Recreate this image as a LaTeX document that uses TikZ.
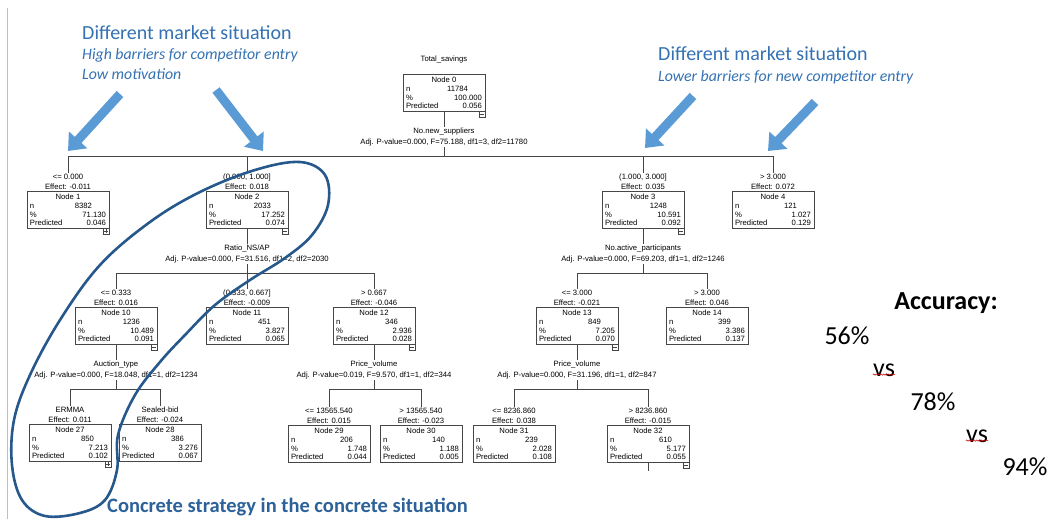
\documentclass[tikz,border=0pt]{standalone}
\usepackage{fontspec}
\setmainfont{Liberation Sans}
\newfontfamily\calibri{Carlito}
\usetikzlibrary{positioning, arrows.meta, decorations.pathmorphing}

\definecolor{noteblue}{RGB}{52,114,180}
\definecolor{arrowblue}{RGB}{91,155,213}
\definecolor{loopblue}{RGB}{38,88,140}
\definecolor{treegray}{RGB}{70,70,70}

\newcommand{\cellrow}[2]{\makebox[76pt]{#1\hfill#2}}
\newcommand{\boxtext}[4]{Node #1\\\cellrow{n}{#2\hspace*{14pt}}\\\cellrow{\%}{#3}\\\cellrow{Predicted}{#4}}

\tikzset{
  treebox/.style={draw=treegray, line width=0.6pt, minimum width=82pt, inner xsep=2pt, inner ysep=2.5pt, align=center, font=\fontsize{7.7}{8.8}\selectfont},
  edgelab/.style={inner sep=1pt, align=center, font=\fontsize{7.7}{10}\selectfont},
  splitlab/.style={inner sep=1pt, align=center, font=\fontsize{7.7}{11}\selectfont},
  edge/.style={draw=treegray, line width=0.6pt},
  toggle/.style={draw=treegray, line width=0.4pt, minimum size=6pt, inner sep=0pt, anchor=north east},
  note/.style={text=noteblue, anchor=west, inner sep=0pt, font=\calibri\fontsize{20}{22}\selectfont},
  notesub/.style={note, font=\calibri\itshape\fontsize{15.8}{18}\selectfont},
  bigarrow/.style={draw=arrowblue, line width=9pt, -{Triangle[length=15pt, width=24pt]}},
  acc/.style={inner sep=0pt, font=\calibri\fontsize{26}{28}\selectfont},
}

\begin{document}
\begin{tikzpicture}[x=1pt, y=-1pt]
    \fill[white] (0,0) rectangle (1053,519);
    \useasboundingbox (0,0) rectangle (1053,519);
    \draw[black!25, line width=0.8pt] (7,8) -- (7,519);

    % tree boxes
    \foreach \id/\x/\y/\n/\p/\q in {0/444/93/11784/100.000/0.056,
        1/68/210/8382/71.130/0.046, 2/247/210/2033/17.252/0.074,
        3/643/210/1248/10.591/0.092, 4/773/210/121/1.027/0.129,
        10/116/326/1236/10.489/0.091, 11/247/326/451/3.827/0.065,
        12/374/326/346/2.936/0.028, 13/577/326/849/7.205/0.070,
        14/707/326/399/3.386/0.137, 27/70/443/850/7.213/0.102,
        28/160/443/386/3.276/0.067, 29/329/444/206/1.748/0.044,
        30/421/444/140/1.188/0.005, 31/514/444/239/2.028/0.108,
        32/648/444/610/5.177/0.055} {
        \node[treebox] (n\id) at (\x,\y) {\boxtext{\id}{\n}{\p}{\q}};
    }
    \node[splitlab, above=10pt of n0] (top) {Total\_savings};

    % branch labels
    \foreach \id/\cond/\eff in {1/{<= 0.000}/-0.011, 2/{(0.000, 1.000]}/0.018,
        3/{(1.000, 3.000]}/0.035, 4/{> 3.000}/0.072, 10/{<= 0.333}/0.016,
        11/{(0.333, 0.667]}/-0.009, 12/{> 0.667}/-0.046, 13/{<= 3.000}/-0.021,
        14/{> 3.000}/0.046, 27/ERMMA/0.011, 28/Sealed-bid/-0.024,
        29/{<= 13565.540}/0.015, 30/{> 13565.540}/-0.023,
        31/{<= 8236.860}/0.038, 32/{> 8236.860}/-0.015} {
        \node[edgelab, above=0pt of n\id] (e\id) {\cond\\Effect: \eff};
    }

    % split variables
    \foreach \id/\var/\stat in {0/No.new\_suppliers/{0.000, F=75.188, df1=3, df2=11780},
        2/{Ratio\_NS/AP}/{0.000, F=31.516, df1=2, df2=2030},
        3/No.active\_participants/{0.000, F=69.203, df1=1, df2=1246},
        10/Auction\_type/{0.000, F=18.048, df1=1, df2=1234},
        12/Price\_volume/{0.019, F=9.570, df1=1, df2=344},
        13/Price\_volume/{0.000, F=31.196, df1=1, df2=847}} {
        \node[splitlab, below=15pt of n\id] (s\id) {\var\\Adj. P-value=\stat};
    }

    % connectors
    \foreach \p/\a/\b in {0/1/4, 2/10/12, 3/13/14, 10/27/28, 12/29/30, 13/31/32} {
        \draw[edge] (n\p.south) -- (s\p.north);
        \draw[edge] (s\p.south) -- ++(0,9) coordinate (b\p);
        \draw[edge] (e\a.north) |- (b\p) -| (e\b.north);
    }
    \draw[edge] (e2.north) -- (e2.north |- b0);
    \draw[edge] (e3.north) -- (e3.north |- b0);
    \draw[edge] (e11.north) -- (e11.north |- b2);
    \draw[edge] (n32.south) -- ++(0,8);

    % expand / collapse toggles
    \foreach \id in {0,2,3,10,12,13,32} {
        \node[toggle] (m\id) at ([yshift=1pt]n\id.south east) {};
        \draw[treegray, line width=0.4pt] ([xshift=1.3pt]m\id.west) -- ([xshift=-1.3pt]m\id.east);
    }
    \foreach \id in {1,27} {
        \node[toggle] (m\id) at ([yshift=1pt]n\id.south east) {};
        \draw[treegray, line width=0.4pt] ([xshift=1.3pt]m\id.west) -- ([xshift=-1.3pt]m\id.east);
        \draw[treegray, line width=0.4pt] ([yshift=-1.3pt]m\id.north) -- ([yshift=1.3pt]m\id.south);
    }

    % annotations
    \node[note] (lt1) at (82,33) {Different market situation};
    \node[notesub] (lt2) at (82,55) {High barriers for competitor entry};
    \node[notesub] (lt3) at (82,74) {Low motivation};
    \node[note] (rt1) at (658,54) {Different market situation};
    \node[notesub] (rt2) at (658,77) {Lower barriers for new competitor entry};
    \node[note, font=\calibri\bfseries\fontsize{20.5}{22}\selectfont, text=noteblue!85!black] (strat) at (107,507) {Concrete strategy in the concrete situation};

    \coordinate (t1) at (120,94);  \coordinate (h1) at (68,151);
    \coordinate (t2) at (216,90);  \coordinate (h2) at (263,151);
    \coordinate (t3) at (693,96);  \coordinate (h3) at (645,148);
    \coordinate (t4) at (815,102); \coordinate (h4) at (768,151);
    \foreach \i in {1,2,3,4} {
        \draw[bigarrow] (t\i) -- (h\i);
    }

    \draw[loopblue, line width=2.6pt] plot[smooth cycle, tension=0.6] coordinates {
        (300,162) (325,175) (328,205) (312,235) (285,258) (250,280) (215,305)
        (185,335) (160,362) (135,395) (118,435) (117,470) (105,500) (80,513)
        (45,516) (22,500) (12,465) (14,420) (30,375) (60,320) (100,265)
        (150,222) (200,192) (255,170)};

    % accuracy
    \node[acc, font=\calibri\bfseries\fontsize{26}{28}\selectfont] (acch) at (946,303) {Accuracy:};
    \node[acc] (a56) at (847,336) {56\%};
    \node[acc] (vs1) at (884,370) {vs};
    \node[acc] (a78) at (933,402) {78\%};
    \node[acc] (vs2) at (977,436) {vs};
    \node[acc] (a94) at (1025,467) {94\%};
    \foreach \v in {vs1,vs2} {
        \draw[red!80!black, line width=0.5pt, decorate, decoration={snake, amplitude=0.7pt, segment length=2.5pt}]
            ([yshift=2pt]\v.south west) -- ([yshift=2pt]\v.south east);
    }
\end{tikzpicture}
\end{document}
